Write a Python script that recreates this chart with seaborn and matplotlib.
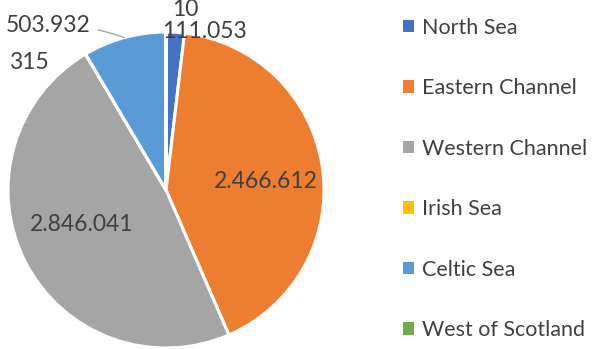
import matplotlib
matplotlib.use("Agg")
import matplotlib.pyplot as plt
import seaborn as sns
import numpy as np

regions = ["North Sea", "Eastern Channel", "Western Channel",
           "Irish Sea", "Celtic Sea", "West of Scotland"]
catches = [111053, 2466612, 2846041, 315, 503932, 10]
labels = ["111.053", "2.466.612", "2.846.041", "315", "503.932", "10"]
colors = ["#4472C4", "#ED7D31", "#A5A5A5", "#FFC000", "#5B9BD5", "#70AD47"]

sns.set_theme(style="white")
plt.rcParams["font.family"] = ["Lato", "DejaVu Sans"]
text_color = "#404040"
fs_pie = 16.5
fs_leg = 15.5

fig = plt.figure(figsize=(5.92, 3.49), dpi=100)
cx, cy, r = 166, 190, 158
W, H = 592, 349
ax = fig.add_axes([(cx - r) / W, (H - cy - r) / H, 2 * r / W, 2 * r / H])

wedges, _ = ax.pie(catches, colors=sns.color_palette(colors), startangle=90,
                   counterclock=False,
                   wedgeprops=dict(edgecolor="white", linewidth=2.2))
ax.set_xlim(-1, 1)
ax.set_ylim(-1, 1)
ax.set_aspect("equal")
ax.axis("off")


def mid_point(w, rad):
    ang = np.deg2rad((w.theta1 + w.theta2) / 2)
    return rad * np.cos(ang), rad * np.sin(ang)


# label placement: (slice index, anchor radius, pixel offset)
placements = [
    (1, 0.64, (0, -6)),
    (2, 0.60, (0, 9)),
    (0, 1.0, (29, 1)),
    (5, 1.0, (19, 22)),
    (3, 1.0, (-57, -8)),
]
for i, rad, (dx, dy) in placements:
    x, y = mid_point(wedges[i], rad)
    ax.annotate(labels[i], xy=(x, y), xytext=(dx, dy), textcoords="offset pixels",
                ha="center", va="center", fontsize=fs_pie, color=text_color,
                annotation_clip=False)

# Celtic Sea label with leader line
x, y = mid_point(wedges[4], 1.0)
ax.annotate(labels[4], xy=(x, y), xytext=(-76, 12), textcoords="offset pixels",
            ha="center", va="center", fontsize=fs_pie, color=text_color,
            annotation_clip=False,
            arrowprops=dict(arrowstyle="-", color="#A6A6A6", lw=1,
                            shrinkA=3, shrinkB=0,
                            connectionstyle="arc3,rad=-0.1"))

leg = fig.legend(wedges, regions, loc="center left",
                 bbox_to_anchor=(394.5 / W, 1 - 179 / H), frameon=False,
                 fontsize=fs_leg, labelcolor=text_color,
                 handlelength=0.51, handleheight=0.51, handletextpad=0.37,
                 labelspacing=1.88, borderaxespad=0)
for h in leg.legend_handles:
    h.set_edgecolor("none")

fig.savefig("out.png", dpi=100, facecolor="white")
